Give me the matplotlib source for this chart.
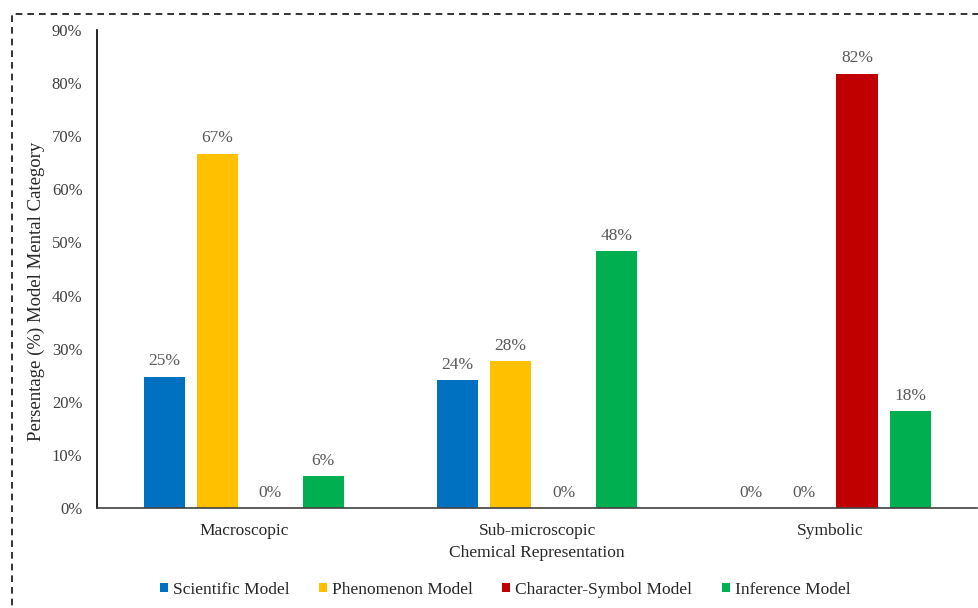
import matplotlib
matplotlib.use("Agg")
import matplotlib.pyplot as plt
import numpy as np
from matplotlib.patches import Rectangle

categories = ["Macroscopic", "Sub-microscopic", "Symbolic"]
series_names = ["Scientific Model", "Phenomenon Model", "Character-Symbol Model", "Inference Model"]
scientific = [24.7, 24.1, 0.0]
phenomenon = [66.7, 27.6, 0.0]
char_symbol = [0.0, 0.0, 81.8]
inference = [6.0, 48.3, 18.2]
colors = ["#0070C0", "#FFC000", "#C00000", "#00B050"]

plt.rcParams["font.family"] = ["Liberation Serif", "DejaVu Serif"]

fig = plt.figure(figsize=(9.79, 6.08), dpi=100)
ax = fig.add_axes([0.0991, 0.1645, 0.899, 0.7862])

x = np.arange(len(categories))
pitch = 0.181
width = 0.14
all_series = [scientific, phenomenon, char_symbol, inference]
for i, vals in enumerate(all_series):
    off = (i - 1.5) * pitch
    bars = ax.bar(x + off, vals, width, color=colors[i], label=series_names[i])
    for b, v in zip(bars, vals):
        ax.text(b.get_x() + b.get_width() / 2, v + 1.4, "%d%%" % round(v),
                ha="center", va="bottom", fontsize=12.5, color="#595959")

ax.set_xlim(-0.5, 2.5)
ax.set_ylim(0, 90)
ax.set_yticks(np.arange(0, 91, 10))
ax.set_yticklabels(["%d%%" % t for t in range(0, 91, 10)], fontsize=12, color="#404040")
ax.set_xticks(x)
ax.set_xticklabels(categories, fontsize=12.5, color="#262626")
ax.tick_params(axis="x", length=0, pad=11)
ax.tick_params(axis="y", length=0, pad=10.5)
for s in ["top", "right"]:
    ax.spines[s].set_visible(False)
ax.spines["left"].set_color("#000000")
ax.spines["bottom"].set_color("#404040")
ax.spines["left"].set_linewidth(1.2)
ax.spines["bottom"].set_linewidth(1.2)

ax.set_ylabel("Persentage (%) Model Mental Category", fontsize=13.5, color="#262626")
ax.yaxis.set_label_coords(-0.059, 0.454)
ax.set_xlabel("Chemical Representation", fontsize=12.5, color="#262626", labelpad=4)

fig.legend(loc="center", bbox_to_anchor=(0.516, 0.03), ncol=4, frameon=False,
           fontsize=12.5, handlelength=0.45, handleheight=0.45, handletextpad=0.3,
           columnspacing=1.7, labelcolor="#262626")

border = Rectangle((12 / 979, -0.2), 1.2, 1.2 - 14 / 608, transform=fig.transFigure,
                   fill=False, linestyle=(0, (4, 3)), linewidth=1.2, edgecolor="#111111")
fig.patches.append(border)

fig.savefig("out.png", dpi=100)
